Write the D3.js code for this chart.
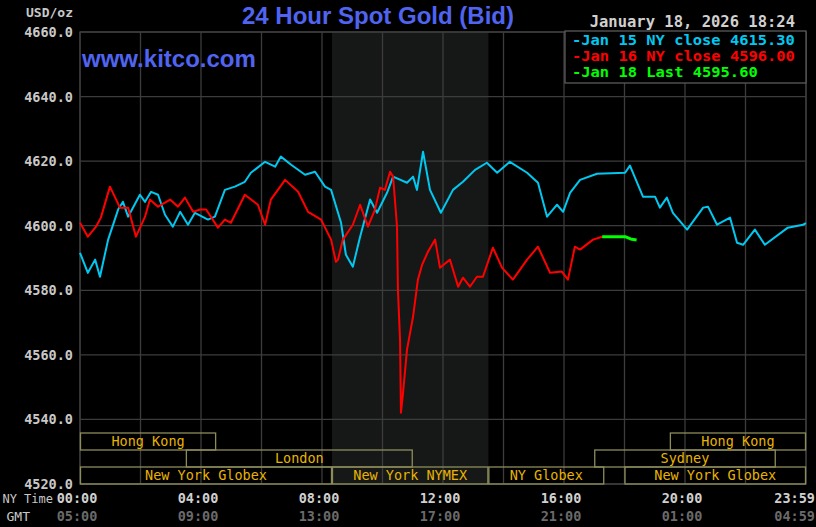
<!DOCTYPE html>
<html><head><meta charset="utf-8">
<script src="https://cdn.jsdelivr.net/npm/d3@7"></script>
<style>body{margin:0;background:#000}svg{display:block}</style>
</head><body>
<svg id="c" width="816" height="527"></svg>
<script>
// [hour NY time, price]
const jan15 = [[0,4591.6],[0.26,4585.4],[0.5,4589.5],[0.66,4584.2],[0.93,4595.7],[1.26,4605.0],[1.42,4607.4],[1.59,4602.8],[1.98,4609.6],[2.15,4607.4],[2.35,4610.5],[2.58,4609.6],[2.81,4603.4],[3.07,4599.7],[3.31,4604.3],[3.57,4600.3],[3.8,4604.0],[4.23,4601.9],[4.46,4602.8],[4.79,4611.1],[5.12,4612.1],[5.45,4613.6],[5.65,4616.4],[6.12,4619.8],[6.45,4618.3],[6.64,4621.4],[6.98,4618.9],[7.44,4615.8],[7.77,4616.7],[8.1,4612.1],[8.3,4611.1],[8.63,4600.9],[8.79,4591.0],[9.02,4587.3],[9.26,4596.6],[9.59,4608.1],[9.82,4604.0],[10.15,4610.2],[10.35,4615.2],[10.81,4613.3],[11.01,4615.2],[11.14,4611.1],[11.34,4622.9],[11.57,4611.1],[11.93,4604.0],[12.33,4611.1],[12.66,4613.6],[13.06,4617.3],[13.45,4619.5],[13.79,4616.4],[14.21,4619.8],[14.78,4616.4],[15.14,4613.3],[15.44,4602.8],[15.77,4606.5],[15.97,4604.3],[16.2,4610.2],[16.53,4614.2],[17.09,4616.1],[18.02,4616.4],[18.18,4618.6],[18.61,4609.0],[19.01,4609.0],[19.17,4605.6],[19.4,4608.7],[19.6,4604.0],[20.07,4598.8],[20.6,4605.6],[20.76,4605.9],[21.06,4600.3],[21.49,4602.5],[21.72,4594.7],[21.92,4594.1],[22.31,4598.8],[22.64,4594.1],[23.4,4599.4],[23.9,4600.3],[24,4600.8]];
const jan16 = [[0,4600.9],[0.26,4596.6],[0.53,4599.7],[0.69,4602.5],[0.99,4612.1],[1.32,4605.6],[1.59,4605.6],[1.85,4596.6],[2.15,4602.8],[2.31,4608.1],[2.58,4605.9],[2.98,4608.1],[3.24,4605.9],[3.47,4608.7],[3.74,4604.3],[3.97,4605.0],[4.17,4605.0],[4.56,4599.4],[4.79,4601.9],[4.99,4600.9],[5.45,4609.6],[5.88,4606.5],[6.12,4600.3],[6.31,4608.1],[6.78,4614.2],[7.21,4610.5],[7.54,4604.3],[7.97,4601.9],[8.3,4595.7],[8.46,4588.8],[8.53,4589.5],[8.69,4595.7],[9.02,4600.3],[9.26,4606.5],[9.52,4599.7],[9.75,4605.0],[9.92,4611.8],[10.08,4611.1],[10.25,4616.7],[10.35,4615.2],[10.48,4599.7],[10.51,4580.2],[10.58,4564.7],[10.61,4542.1],[10.68,4548.3],[10.81,4561.6],[11.01,4571.8],[11.17,4583.3],[11.31,4587.9],[11.5,4591.9],[11.74,4595.7],[11.9,4587.0],[12.23,4589.5],[12.5,4581.1],[12.66,4583.9],[12.89,4581.1],[13.12,4584.2],[13.32,4584.2],[13.65,4593.2],[13.95,4587.0],[14.31,4583.3],[14.78,4589.5],[15.14,4593.5],[15.54,4585.4],[15.93,4585.8],[16.13,4583.3],[16.36,4593.5],[16.53,4592.6],[16.96,4595.7],[17.26,4596.6]];
const jan18 = [[17.26,4596.6],[18.02,4596.6],[18.2,4595.9],[18.4,4595.6]];
const yTicks = [4520,4540,4560,4580,4600,4620,4640,4660];
const nyLabels = ["00:00","04:00","08:00","12:00","16:00","20:00","23:59"];
const gmtLabels = ["05:00","09:00","13:00","17:00","21:00","01:00","04:59"];
const labelHours = [0,4,8,12,16,20,24];
const legend = [["Jan 15 NY close 4615.30","#00c8f0"],["Jan 16 NY close 4596.00","#ff0000"],["Jan 18 Last 4595.60","#00ff00"]];
// sessions: [row, start, end, label]
const sessions = [[0,0,4.5,"Hong Kong"],[1,3.5,11,"London"],[2,0,8.33,"New York Globex"],[2,8.33,13.5,"New York NYMEX"],[2,13.5,17.33,"NY Globex"],[2,18,24,"New York Globex"],[1,17,23,"Sydney"],[0,19.5,24,"Hong Kong"]];

const svg = d3.select("#c");
const L=80,R=806,T=32,B=484;
const x = d3.scaleLinear().domain([0,24]).range([L,R]);
const y = d3.scaleLinear().domain([4520,4660]).range([B,T]);
const mono = "'DejaVu Sans Mono', monospace";

svg.append("rect").attr("width",816).attr("height",527).attr("fill","#000");
svg.append("rect").attr("x",x(8.33)).attr("y",T).attr("width",x(13.5)-x(8.33)).attr("height",B-T).attr("fill","#161817");
svg.append("g").selectAll("line").data(d3.range(0,25,2)).join("line")
  .attr("x1",d=>x(d)).attr("x2",d=>x(d)).attr("y1",T).attr("y2",B).attr("stroke","#3c3c3c").attr("stroke-width",1.3);
svg.append("g").selectAll("line").data(yTicks).join("line")
  .attr("x1",L).attr("x2",R).attr("y1",d=>y(d)).attr("y2",d=>y(d)).attr("stroke","#3c3c3c").attr("stroke-width",1.3);
svg.append("rect").attr("x",L).attr("y",T).attr("width",R-L).attr("height",B-T).attr("fill","none").attr("stroke","#3c3c3c").attr("stroke-width",1.3);

const rowY=[433,450,467], rowH=17;
const sg = svg.append("g");
sessions.forEach(([r,s,e,lab])=>{
  sg.append("rect").attr("x",x(s)+0.5).attr("y",rowY[r]).attr("width",x(e)-x(s)-1).attr("height",rowH)
    .attr("fill","none").attr("stroke","#8c8c5a").attr("stroke-width",1.3);
  sg.append("text").attr("x",(x(s)+x(e))/2).attr("y",rowY[r]+13).attr("text-anchor","middle")
    .attr("fill","#e8b400").attr("font-family",mono).attr("font-size",13.5).text(lab);
});

svg.append("g").selectAll("text").data(yTicks).join("text")
  .attr("x",73).attr("y",d=>y(d)+5).attr("text-anchor","end").attr("fill","#c8c8c8")
  .attr("font-family",mono).attr("font-weight","bold").attr("font-size",13.5).text(d=>d.toFixed(1));
svg.append("text").attr("x",73).attr("y",17).attr("text-anchor","end").attr("fill","#c8c8c8")
  .attr("font-family",mono).attr("font-weight","bold").attr("font-size",13).text("USD/oz");

labelHours.forEach((h,i)=>{
  const last = i===labelHours.length-1;
  const xx = last?815:x(h)-3, anc = last?"end":"middle";
  svg.append("text").attr("x",xx).attr("y",503).attr("text-anchor",anc).attr("fill","#d0d0d0")
    .attr("font-family",mono).attr("font-weight","bold").attr("font-size",13.5).text(nyLabels[i]);
  svg.append("text").attr("x",xx).attr("y",521).attr("text-anchor",anc).attr("fill","#6a6a6a")
    .attr("font-family",mono).attr("font-weight","bold").attr("font-size",13.5).text(gmtLabels[i]);
});
svg.append("text").attr("x",53).attr("y",503).attr("text-anchor","end").attr("fill","#c8c8c8")
  .attr("font-family",mono).attr("font-size",12).text("NY Time");
svg.append("text").attr("x",30).attr("y",521).attr("text-anchor","end").attr("fill","#c8c8c8")
  .attr("font-family",mono).attr("font-size",13).text("GMT");

const line = d3.line().x(d=>x(d[0])).y(d=>y(d[1]));
[[jan15,"#00c8f0",2],[jan16,"#ff0000",2],[jan18,"#00ff00",3]].forEach(([d,c,w])=>{
  svg.append("path").datum(d).attr("d",line).attr("fill","none").attr("stroke",c).attr("stroke-width",w).attr("stroke-linejoin","round");
});

svg.append("text").attr("x",378).attr("y",24).attr("text-anchor","middle").attr("fill","#5064f0")
  .attr("font-family","'Liberation Sans', Arial, sans-serif").attr("font-weight","bold").attr("font-size",24).text("24 Hour Spot Gold (Bid)");
svg.append("text").attr("x",82).attr("y",67).attr("fill","#5064f0")
  .attr("font-family","'Liberation Sans', Arial, sans-serif").attr("font-weight","bold").attr("font-size",24).text("www.kitco.com");
svg.append("text").attr("x",795).attr("y",27).attr("text-anchor","end").attr("fill","#d0d0d0")
  .attr("font-family",mono).attr("font-weight","bold").attr("font-size",15.5).text("January 18, 2026 18:24");

svg.append("rect").attr("x",565).attr("y",31).attr("width",241).attr("height",52).attr("fill","#000").attr("stroke","#5a5a5a").attr("stroke-width",1.3);
legend.forEach(([t,c],i)=>{
  svg.append("text").attr("x",572).attr("y",45+i*16).attr("fill",c).attr("font-family",mono)
    .attr("font-weight","bold").attr("font-size",14).attr("textLength",t.length*9.3+9).attr("lengthAdjust","spacingAndGlyphs").text("-"+t);
});
</script>
</body></html>
